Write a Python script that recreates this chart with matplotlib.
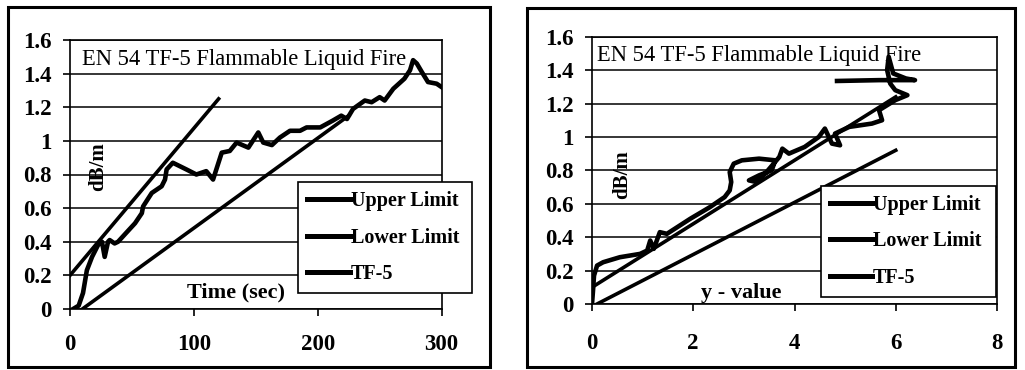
import matplotlib
matplotlib.use("Agg")
import matplotlib.pyplot as plt
from matplotlib.patches import Rectangle

plt.rcParams['font.family'] = ['Liberation Serif', 'DejaVu Serif']

title = "EN 54 TF-5 Flammable Liquid Fire"

# left chart: m (dB/m) against time
time_sec = [2.5, 7, 10.5, 13.6, 17.8, 22.6, 25.8, 28, 30.7, 32, 36, 38.8, 45, 52.5, 58,
            59, 66, 74, 76.7, 78, 83, 94, 102, 110, 115.5, 122.5, 129, 134.5, 144,
            152, 156, 163, 169.5, 177.6, 185.7, 191, 202, 207, 212, 219, 223.6,
            228.5, 238, 243.5, 250, 254, 261, 270, 274.5, 277, 280, 284, 289, 296, 300]
tf5_m = [0, 0.02, 0.095, 0.23, 0.31, 0.38, 0.40, 0.31, 0.40, 0.41, 0.39, 0.40, 0.45, 0.51, 0.57,
         0.61, 0.69, 0.73, 0.77, 0.83, 0.87, 0.83, 0.80, 0.82, 0.77, 0.93, 0.94, 0.99, 0.96,
         1.05, 0.99, 0.975, 1.02, 1.06, 1.06, 1.08, 1.08, 1.10, 1.12, 1.15, 1.13,
         1.19, 1.24, 1.23, 1.26, 1.24, 1.31, 1.37, 1.42, 1.48, 1.46, 1.41, 1.35, 1.34, 1.32]
upper_t = [0, 120]
upper_m = [0.2, 1.25]
lower_t = [10, 225]
lower_m = [0, 1.15]

# right chart: m (dB/m) against y-value
tf5_y = [0, 0.02, 0.04, 0.1, 0.22, 0.55, 0.95, 1.09, 1.15, 1.22, 1.34, 1.48, 1.94, 2.33,
         2.62, 2.72, 2.75, 2.72, 2.8, 2.96, 3.3, 3.62, 3.55, 3.3, 3.1, 3.25, 3.42, 3.7,
         3.76, 3.89, 4.2, 4.48, 4.6, 4.74, 4.9, 4.8, 5.08, 5.53, 5.73, 5.67, 5.99, 6.23,
         5.99, 5.89, 5.83, 5.86, 5.95, 6.2, 6.38, 5.67, 4.84]
tf5_ym = [0, 0.08, 0.17, 0.23, 0.25, 0.28, 0.30, 0.32, 0.38, 0.33, 0.43, 0.42, 0.51, 0.58,
          0.64, 0.68, 0.73, 0.79, 0.84, 0.86, 0.87, 0.86, 0.80, 0.77, 0.74, 0.73, 0.78, 0.88,
          0.93, 0.90, 0.94, 1.0, 1.05, 0.96, 0.95, 1.02, 1.06, 1.08, 1.10, 1.16, 1.22, 1.25,
          1.28, 1.32, 1.40, 1.48, 1.38, 1.35, 1.34, 1.34, 1.335]
upper_y = [0, 6.0]
upper_ym = [0.1, 1.24]
lower_y = [0.1, 6.0]
lower_ym = [0, 0.92]

fig = plt.figure(figsize=(10.25, 3.7), dpi=100)

# outer frames round each chart
for x0, y0, x1, y1 in [(8, 7, 490, 367), (527, 8, 1015, 367)]:
    fig.patches.append(Rectangle((x0 / 1025, 1 - y1 / 370), (x1 - x0) / 1025, (y1 - y0) / 370,
                                 transform=fig.transFigure, fill=False, edgecolor='black',
                                 linewidth=2.2))

ax1 = fig.add_axes([70 / 1025, 1 - 309 / 370, 371.6 / 1025, 269 / 370])
ax2 = fig.add_axes([592 / 1025, 1 - 304 / 370, 405 / 1025, 267.3 / 370])


def style(ax, xticks, xpad):
    ax.set_ylim(0, 1.6)
    ax.set_yticks([0, 0.2, 0.4, 0.6, 0.8, 1, 1.2, 1.4, 1.6])
    ax.set_yticklabels(['0', '0.2', '0.4', '0.6', '0.8', '1', '1.2', '1.4', '1.6'])
    ax.set_xticks(xticks)
    ax.set_xlim(xticks[0], xticks[-1])
    ax.grid(axis='y', color='black', linewidth=1.1)
    ax.set_axisbelow(True)
    for s in ax.spines.values():
        s.set_linewidth(1.2)
    ax.tick_params(axis='x', direction='out', length=5, width=1.2, pad=xpad, labelsize=16.5)
    ax.tick_params(axis='y', direction='out', length=5, width=1.2, pad=8, labelsize=16.5)
    for lab in ax.get_xticklabels() + ax.get_yticklabels():
        lab.set_fontweight('bold')


style(ax1, [0, 100, 200, 300], 13)
style(ax2, [0, 2, 4, 6, 8], 16)

ax1.plot(upper_t, upper_m, color='black', linewidth=2.6, label='Upper Limit')
ax1.plot(lower_t, lower_m, color='black', linewidth=2.6, label='Lower Limit')
ax1.plot(time_sec, tf5_m, color='black', linewidth=3.3, label='TF-5')

ax2.plot(upper_y, upper_ym, color='black', linewidth=2.6, label='Upper Limit')
ax2.plot(lower_y, lower_ym, color='black', linewidth=2.6, label='Lower Limit')
ax2.plot(tf5_y, tf5_ym, color='black', linewidth=3.3, label='TF-5')

for ax, tx, ty, dx, dy, xlab, xx, xy in [
        (ax1, 0.032, 0.926, 0.075, 0.528, 'Time (sec)', 0.447, 0.063),
        (ax2, 0.012, 0.93, 0.074, 0.483, 'y - value', 0.368, 0.04)]:
    ax.text(tx, ty, title, transform=ax.transAxes, fontsize=16.3, va='center', ha='left')
    ax.text(dx, dy, 'dB/m', transform=ax.transAxes, fontsize=15, fontweight='bold',
            rotation=90, va='center', ha='center')
    ax.text(xx, xy, xlab, transform=ax.transAxes, fontsize=16, fontweight='bold',
            va='center', ha='center')

for ax, box in [(ax1, (0.614, 0.059, 0.468, 0.413)), (ax2, (0.565, 0.026, 0.433, 0.412))]:
    leg = ax.legend(loc='lower left', bbox_to_anchor=box, mode='expand', fancybox=False,
                    framealpha=1, edgecolor='black', borderaxespad=0,
                    prop={'family': 'Liberation Serif', 'weight': 'bold', 'size': 14.5},
                    handlelength=2.1, handletextpad=0.05, labelspacing=0.82,
                    borderpad=0.45)
    leg.get_frame().set_linewidth(1.2)
    for h in leg.get_lines():
        h.set_linewidth(3.6)

fig.savefig('out.png', dpi=100)
